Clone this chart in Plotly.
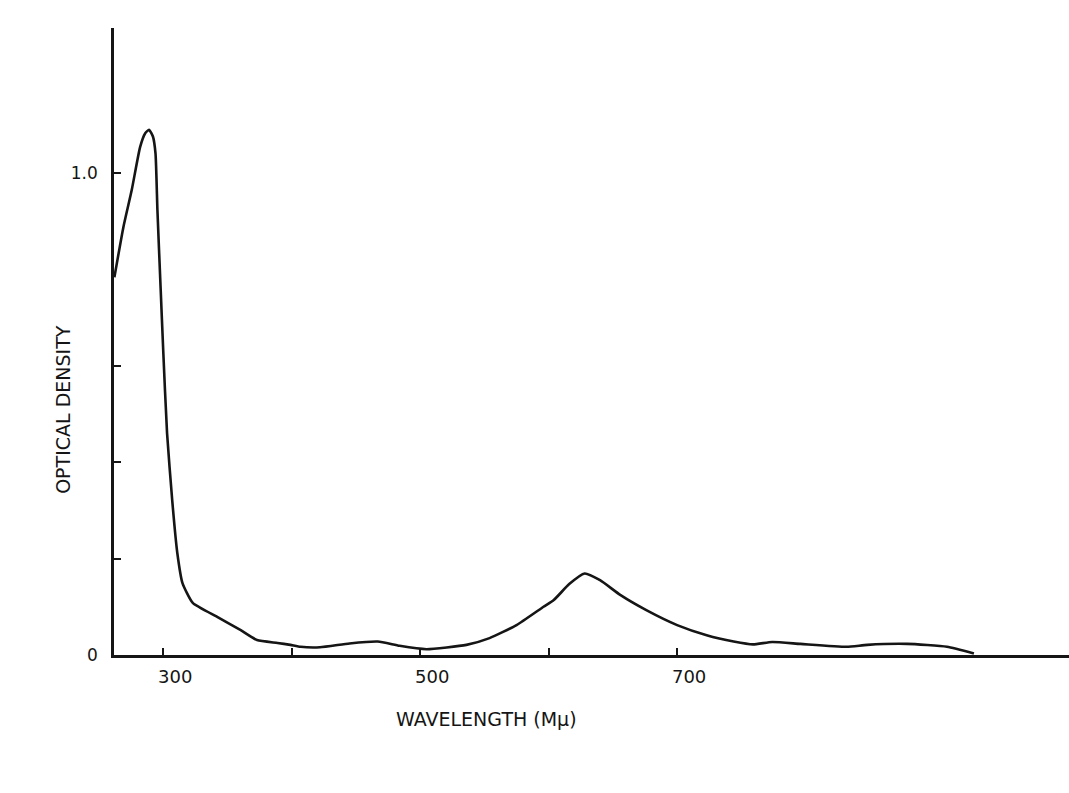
import plotly.graph_objects as go

# Data (wavelength in mμ, optical density)
wavelength = [262, 269, 275.5, 282, 286, 289, 292, 294, 295.5, 298, 300, 303, 307, 311, 315,
              323, 342, 360, 373, 389, 399, 407, 422, 445, 467, 484, 505, 536, 554, 575,
              596, 604, 616, 628, 640, 656, 676, 700, 723, 744, 759, 774, 796, 832, 848,
              879, 910, 931]
optical_density = [0.783, 0.887, 0.964, 1.053, 1.082, 1.089, 1.075, 1.04, 0.922, 0.76, 0.632,
                   0.46, 0.321, 0.211, 0.149, 0.108, 0.079, 0.052, 0.031, 0.025, 0.021, 0.017,
                   0.016, 0.024, 0.028, 0.019, 0.012, 0.021, 0.035, 0.062, 0.10, 0.114, 0.147,
                   0.169, 0.155, 0.124, 0.093, 0.062, 0.041, 0.028, 0.022, 0.027, 0.023, 0.017,
                   0.021, 0.023, 0.017, 0.003]

x_tickvals = [300, 400, 500, 600, 700]
x_ticktext = ["300", "", "500", "", "700"]
y_tickvals = [0, 0.2, 0.4, 0.6, 1.0]
y_ticktext = ["0", "", "", "", "1.0"]

x_title = "WAVELENGTH (Mμ)"
y_title = "OPTICAL DENSITY"

FONT = "DejaVu Sans"
INK = "#151515"

fig = go.Figure()
fig.add_trace(go.Scatter(
    x=wavelength, y=optical_density, mode="lines",
    line=dict(color=INK, width=2.6, shape="spline", smoothing=0.5),
    showlegend=False, hoverinfo="x+y",
))

fig.update_layout(
    width=1069, height=793,
    margin=dict(l=114, r=0, t=28, b=138),
    paper_bgcolor="white", plot_bgcolor="white",
    font=dict(family=FONT, color=INK, size=17),
    xaxis=dict(
        range=[261.7, 1005], showgrid=False, zeroline=False,
        showline=True, linecolor=INK, linewidth=2.5,
        tickvals=x_tickvals, ticktext=x_ticktext,
        ticks="inside", ticklen=7, tickwidth=2, tickcolor=INK,
        tickfont=dict(family=FONT, size=18, color=INK),
        ticklabelshift=12, ticklabelstandoff=4,
    ),
    yaxis=dict(
        range=[0, 1.3], showgrid=False, zeroline=False,
        showline=True, linecolor=INK, linewidth=2.5,
        tickvals=y_tickvals, ticktext=y_ticktext,
        ticks="inside", ticklen=7, tickwidth=2, tickcolor=INK,
        tickfont=dict(family=FONT, size=17, color=INK),
        ticklabelstandoff=10,
    ),
    annotations=[
        dict(text=x_title, xref="paper", yref="paper", x=0.39, y=-0.102,
             xanchor="center", yanchor="middle", showarrow=False,
             font=dict(family=FONT, size=19, color=INK)),
        dict(text=y_title, xref="paper", yref="paper", x=-0.0534, y=0.391,
             xanchor="center", yanchor="middle", showarrow=False, textangle=-90,
             font=dict(family=FONT, size=19, color=INK)),
    ],
)

fig.write_html("out.html",
               config={"displayModeBar": False},
               post_script="document.body.style.margin='0';document.body.style.overflow='hidden';")
